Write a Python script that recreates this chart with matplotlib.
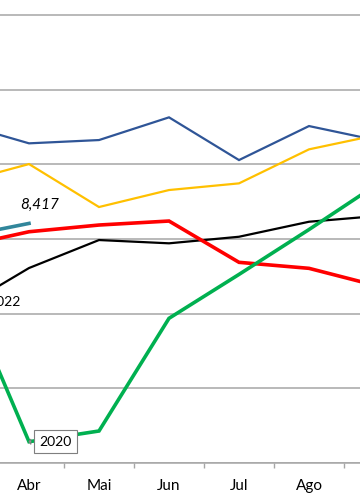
import matplotlib
matplotlib.use("Agg")
import matplotlib.pyplot as plt
import numpy as np

# months shown on the (cropped) category axis
months = ["Jan", "Fev", "Mar", "Abr", "Mai", "Jun", "Jul", "Ago", "Set", "Out", "Nov", "Dez"]

# monthly values (only Mar..Set are in view)
s2018 = [None, None, 11105, 10562, 10650, 11258, 10114, 11025, 10629, None, None, None]
s2019 = [None, None, 9501, 10007, 8856, 9311, 9490, 10401, 10797, None, None, None]
s2020 = [None, None, 6981, 2570, 2857, 5875, 7051, 8253, 9498, None, None, None]
s2021 = [None, None, 7782, 8194, 8374, 8481, 7375, 7214, 6732, None, None, None]
s2022 = [None, None, 6108, 7222, 7972, 7884, 8060, 8462, 8620, None, None, None]
s2023 = [None, None, 8044, 8417, None, None, None, None, None, None, None, None]

y_ticks = [2000, 4000, 6000, 8000, 10000, 12000, 14000]

plt.rcParams["font.family"] = ["Lato", "DejaVu Sans"]


def to_arr(vals):
    return np.array([np.nan if v is None else v for v in vals], dtype=float)


fig = plt.figure(figsize=(3.6, 5.04), dpi=100)
ax = fig.add_axes([0, 41 / 504, 1, 463 / 504])

x = np.arange(len(months))
series = [
    (s2018, "#2F5597", 1.6),
    (s2019, "#FFC000", 1.6),
    (s2022, "#000000", 1.6),
    (s2021, "#FF0000", 2.6),
    (s2020, "#00B050", 2.6),
    (s2023, "#31869B", 2.6),
]
for vals, color, lw in series:
    ax.plot(x, to_arr(vals), color=color, lw=lw, solid_joinstyle="miter", zorder=3)

# only Abr..Ago fall inside the cropped view
shown = slice(3, 8)
ax.set_xticks(x[shown])
ax.set_xticklabels(months[shown], fontsize=11)
ax.set_xticks(x[2:8] + 0.5, minor=True)
ax.tick_params(axis="x", which="major", length=0, pad=11.5)
ax.tick_params(axis="x", which="minor", length=3.8, width=1.0, color="#A6A6A6")

ax.set_yticks(y_ticks)
ax.yaxis.grid(True, color="#A6A6A6", lw=1.1)
ax.set_axisbelow(True)
ax.tick_params(axis="y", left=False, labelleft=False)

ax.set_xlim(3 - 29 / 70, 3 + 331 / 70)
ax.set_ylim(2000, 2000 + 463 * 2000 / 74.67)

for side in ["top", "left", "right"]:
    ax.spines[side].set_visible(False)
ax.spines["bottom"].set_color("#A6A6A6")
ax.spines["bottom"].set_linewidth(1.1)

# data label of the last value of the current year
ax.annotate(f"{s2023[3]:,}", (3, s2023[3]), xytext=(8, 13), textcoords="offset points",
            ha="center", va="center", fontsize=11, style="italic")

# series labels
ax.annotate("2020", (3, s2020[3]), xytext=(19, 0), textcoords="offset points",
            ha="center", va="center", fontsize=10,
            bbox=dict(boxstyle="square,pad=0.38", fc="white", ec="#7F7F7F", lw=0.8),
            arrowprops=dict(arrowstyle="wedge,tail_width=0.35,shrink_factor=0.5",
                            fc="white", ec="#7F7F7F", lw=0.8),
            zorder=5)
ax.text(3 - 8 / 70, 6312, "2022", ha="right", va="center", fontsize=10)

fig.savefig("out.png", dpi=100)
